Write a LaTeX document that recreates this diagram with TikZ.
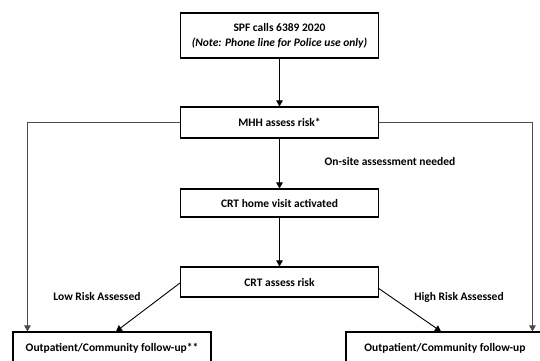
\documentclass[tikz,border=0pt]{standalone}
\usepackage{fontspec}
\setmainfont{Carlito}
\usetikzlibrary{arrows.meta,calc}
\begin{document}
\begin{tikzpicture}[x=1pt,y=-1pt,
  box/.style={draw=black,line width=1.1pt,minimum width=198pt,inner sep=0pt,align=center,
    font=\fontsize{11.5}{15}\selectfont\bfseries},
  lbl/.style={inner sep=0pt,font=\fontsize{11.5}{14}\selectfont\bfseries},
  arr/.style={draw=black,line width=0.9pt,-{Triangle[length=6pt,width=6.5pt]}},
  side/.style={draw=black!70,line width=0.9pt,-{Triangle[length=6pt,width=6.5pt]}}]
\useasboundingbox (0,0) rectangle (540,360);
\clip (0,0) rectangle (540,360);
\fill[white] (0,0) rectangle (540,360);
\node[box,minimum height=45pt] (spf) at (279.5,35.5) {SPF calls 6389 2020\\\textit{(Note: Phone line for Police use only)}};
\node[box,minimum height=31pt] (mhh) at (279.5,122.5) {MHH assess risk*};
\node[box,minimum height=28pt] (home) at (279.5,203) {CRT home visit activated};
\node[box,minimum height=30pt] (ca) at (279.5,282) {CRT assess risk};
\node[box,minimum height=32pt] (lo) at (112,348) {Outpatient/Community follow-up**};
\node[box,minimum height=32pt] (ro) at (445,348) {Outpatient/Community follow-up};
\node[lbl] (onsite) at (390,162) {On-site assessment needed};
\node[lbl] (low) at (97,296) {Low Risk Assessed};
\node[lbl] (high) at (459,297) {High Risk Assessed};
\draw[arr] (spf.south) -- (mhh.north);
\draw[arr] (mhh.south) -- (home.north);
\draw[arr] (home.south) -- (ca.north);
\draw[side] (mhh.west) -| ($(lo.north west)+(15,0)$);
\draw[side] (mhh.east) -| ($(ro.north west)+(187,0)$);
\draw[arr] ($(ca.west)+(0,1)$) -- ($(lo.north)+(4,0)$);
\draw[arr] ($(ca.east)+(-1,6)$) -- ($(ro.north)+(-4,0)$);
\end{tikzpicture}
\end{document}
